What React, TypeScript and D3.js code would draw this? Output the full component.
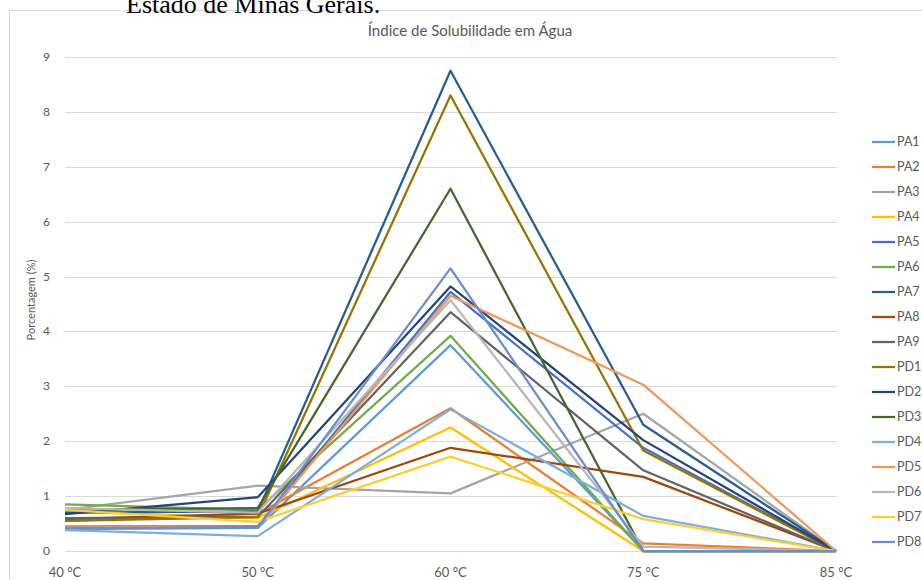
import { useEffect, useRef } from 'react';
import * as d3 from 'd3';

const temps = ['40 °C', '50 °C', '60 °C', '75 °C', '85 °C'];
const seriesNames = ['PA1', 'PA2', 'PA3', 'PA4', 'PA5', 'PA6', 'PA7', 'PA8', 'PA9',
  'PD1', 'PD2', 'PD3', 'PD4', 'PD5', 'PD6', 'PD7', 'PD8'];
const colors = ['#5B9BD5', '#ED7D31', '#A5A5A5', '#FFC000', '#4472C4', '#70AD47',
  '#255E91', '#9E480E', '#636363', '#997300', '#264478', '#43682B',
  '#7CAFDD', '#F1975A', '#B7B7B7', '#FFCD33', '#698ED0'];

const pa1 = [0.40, 0.42, 3.75, 0.00, 0];
const pa2 = [0.55, 0.68, 2.60, 0.14, 0];
const pa3 = [0.75, 1.19, 1.05, 2.50, 0];
const pa4 = [0.72, 0.60, 2.25, 0.00, 0];
const pa5 = [0.45, 0.45, 4.72, 1.88, 0];
const pa6 = [0.85, 0.75, 3.92, 0.00, 0];
const pa7 = [0.70, 0.72, 8.75, 2.30, 0];
const pa8 = [0.58, 0.68, 1.88, 1.35, 0];
const pa9 = [0.60, 0.62, 4.35, 1.47, 0];
const pd1 = [0.55, 0.62, 8.30, 1.83, 0];
const pd2 = [0.67, 0.98, 4.82, 2.02, 0];
const pd3 = [0.75, 0.78, 6.60, 0.00, 0];
const pd4 = [0.38, 0.27, 2.58, 0.64, 0];
const pd5 = [0.45, 0.42, 4.65, 3.03, 0];
const pd6 = [0.78, 0.70, 4.57, 0.08, 0];
const pd7 = [0.75, 0.53, 1.72, 0.58, 0];
const pd8 = [0.42, 0.42, 5.15, 0.00, 0];
const seriesValues = [pa1, pa2, pa3, pa4, pa5, pa6, pa7, pa8, pa9,
  pd1, pd2, pd3, pd4, pd5, pd6, pd7, pd8];

const yTicks = [0, 1, 2, 3, 4, 5, 6, 7, 8, 9];

const W = 922;
const H = 580;
const FONT = 'Lato, "Open Sans", sans-serif';
const TXT = '#595959';

export default function App() {
  const svgRef = useRef<SVGSVGElement>(null);

  useEffect(() => {
    if (!svgRef.current) return;
    const svg = d3.select(svgRef.current);
    svg.selectAll('*').remove();

    const plot = { left: 65, right: 837, top: 57, bottom: 551 };

    const x = d3.scalePoint<string>().domain(temps).range([plot.left, plot.right - 1]);
    const y = d3.scaleLinear().domain([0, 9]).range([plot.bottom, plot.top]);

    svg.append('rect').attr('width', W).attr('height', H).attr('fill', '#fff');

    // chart frame
    svg.append('rect')
      .attr('x', 9.5).attr('y', 10.5)
      .attr('width', W).attr('height', H)
      .attr('fill', 'none')
      .attr('stroke', '#d9d9d9');

    // document text cut at the top, as in the page scan
    svg.append('text')
      .attr('x', 126).attr('y', 13)
      .attr('font-family', '"Liberation Serif", "Times New Roman", serif')
      .attr('font-size', 26)
      .attr('fill', '#000')
      .text('Estado de Minas Gerais.');

    svg.append('text')
      .attr('x', 470).attr('y', 36)
      .attr('text-anchor', 'middle')
      .attr('font-family', FONT)
      .attr('font-size', 15)
      .attr('fill', TXT)
      .text('Índice de Solubilidade em Água');

    // gridlines + y ticks
    yTicks.forEach(t => {
      svg.append('line')
        .attr('x1', plot.left).attr('x2', plot.right)
        .attr('y1', Math.round(y(t)) + 0.5).attr('y2', Math.round(y(t)) + 0.5)
        .attr('stroke', '#d9d9d9');
      svg.append('text')
        .attr('x', 50).attr('y', y(t) + 4)
        .attr('text-anchor', 'end')
        .attr('font-family', FONT)
        .attr('font-size', 12)
        .attr('fill', TXT)
        .text(t);
    });

    temps.forEach(t => {
      svg.append('text')
        .attr('x', x(t)!).attr('y', 577)
        .attr('text-anchor', 'middle')
        .attr('font-family', FONT)
        .attr('font-size', 13)
        .attr('fill', TXT)
        .text(t);
    });

    svg.append('text')
      .attr('transform', `translate(35, ${(plot.top + plot.bottom) / 2 - 4}) rotate(-90)`)
      .attr('text-anchor', 'middle')
      .attr('font-family', FONT)
      .attr('font-size', 11)
      .attr('fill', TXT)
      .text('Porcentagem (%)');

    const line = d3.line<number>()
      .x((_, i) => x(temps[i])!)
      .y(d => y(d));

    seriesValues.forEach((vals, i) => {
      svg.append('path')
        .datum(vals)
        .attr('d', line)
        .attr('fill', 'none')
        .attr('stroke', colors[i])
        .attr('stroke-width', 2.25)
        .attr('stroke-linejoin', 'round');
    });

    // legend
    const legend = svg.append('g');
    seriesNames.forEach((name, i) => {
      const ly = 142 + i * 25;
      legend.append('line')
        .attr('x1', 872).attr('x2', 895)
        .attr('y1', ly).attr('y2', ly)
        .attr('stroke', colors[i])
        .attr('stroke-width', 2.25);
      legend.append('text')
        .attr('x', 897).attr('y', ly + 4)
        .attr('font-family', FONT)
        .attr('font-size', 12.5)
        .attr('fill', TXT)
        .text(name);
    });
  }, []);

  return (
    <svg
      ref={svgRef}
      width={W}
      height={H}
      style={{ position: 'absolute', left: 0, top: 0, display: 'block' }}
    />
  );
}
